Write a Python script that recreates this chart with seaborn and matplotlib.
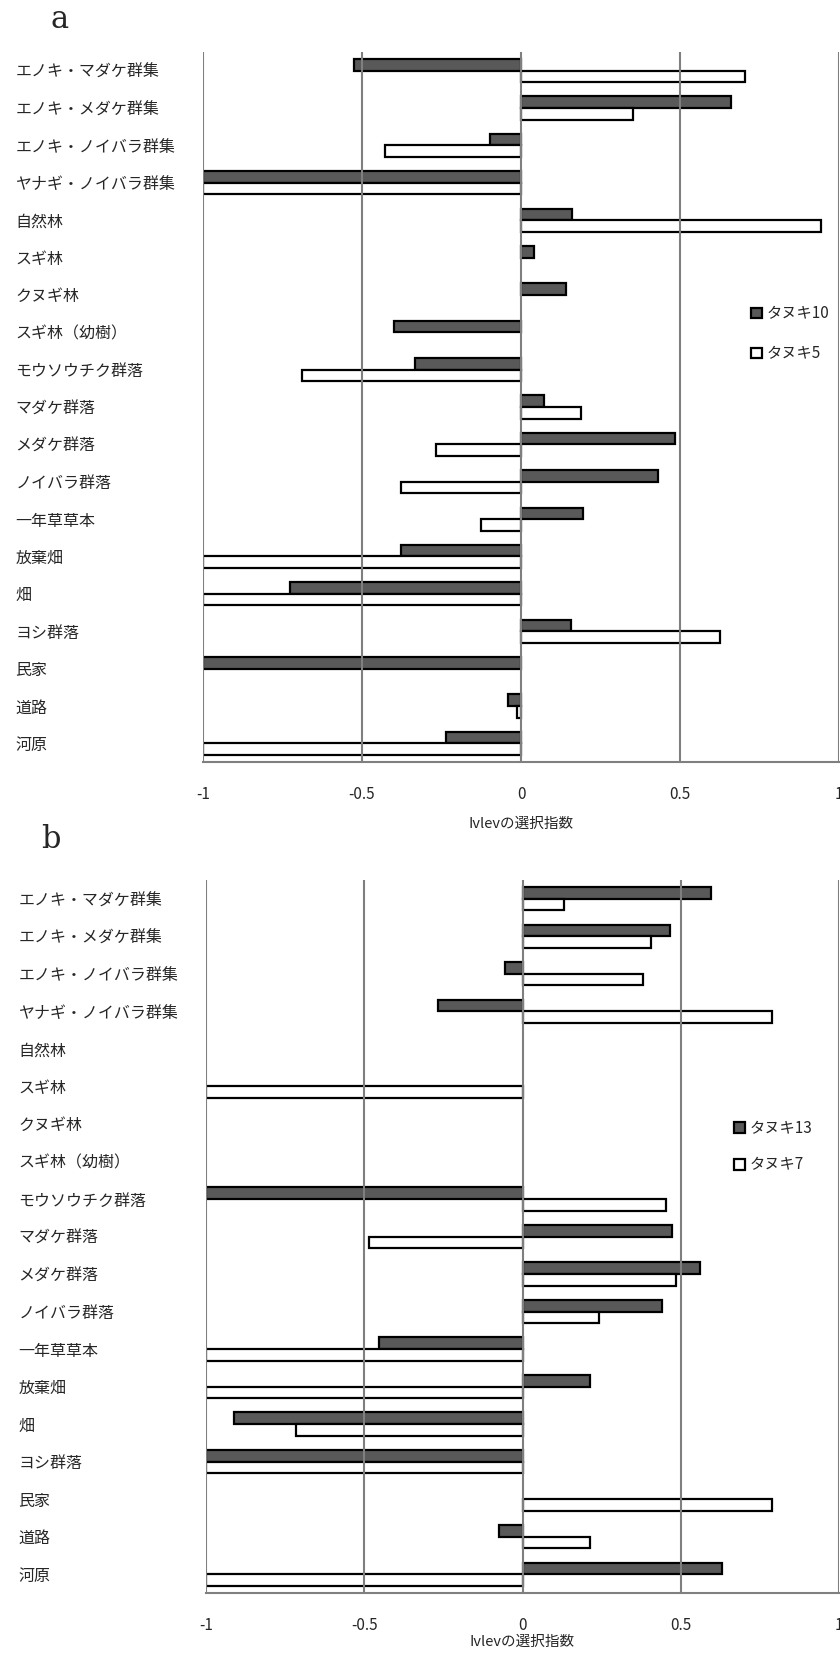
import matplotlib
matplotlib.use('Agg')
import matplotlib.pyplot as plt
import seaborn as sns
import numpy as np
import pandas as pd

# habitat types (top to bottom)
categories = ['エノキ・マダケ群集', 'エノキ・メダケ群集', 'エノキ・ノイバラ群集', 'ヤナギ・ノイバラ群集',
              '自然林', 'スギ林', 'クヌギ林', 'スギ林（幼樹）', 'モウソウチク群落', 'マダケ群落',
              'メダケ群落', 'ノイバラ群落', '一年草草本', '放棄畑', '畑', 'ヨシ群落', '民家', '道路', '河原']

# panel a  (None = no bar)
a_names = ['タヌキ10', 'タヌキ5']
a_tanuki10 = [-0.525, 0.661, -0.097, -1.0, 0.161, 0.042, 0.141, -0.398, -0.334, 0.073,
              0.483, 0.432, 0.195, -0.376, -0.725, 0.156, -1.0, -0.042, -0.237]
a_tanuki5 = [0.703, 0.353, -0.427, -1.0, 0.944, None, None, None, -0.69, 0.19,
             -0.268, -0.376, -0.127, -1.0, -1.0, 0.627, None, -0.014, -1.0]

# panel b
b_names = ['タヌキ13', 'タヌキ7']
b_tanuki13 = [0.597, 0.466, -0.056, -0.266, None, None, None, None, -1.0, 0.471,
              0.561, 0.441, -0.453, 0.214, -0.912, -1.0, None, -0.073, 0.629]
b_tanuki7 = [0.132, 0.407, 0.381, 0.788, None, -1.0, None, None, 0.453, -0.486,
             0.486, 0.241, -1.0, -1.0, -0.715, -1.0, 0.788, 0.214, -1.0]

xticks = [-1, -0.5, 0, 0.5, 1]
xtick_labels = ['-1', '-0.5', '0', '0.5', '1']

sns.set_style('white')
plt.rcParams['font.family'] = ['Noto Sans CJK JP', 'DejaVu Sans']

W, H = 840, 1654


def long_df(first, second, names):
    rows = []
    for cat, v1, v2 in zip(categories, first, second):
        if v1 is not None:
            rows.append((cat, names[0], v1))
        if v2 is not None:
            rows.append((cat, names[1], v2))
    return pd.DataFrame(rows, columns=['habitat', 'animal', 'value'])


def draw(ax, df, names, anchor, spacing, labelpad):
    sns.barplot(data=df, y='habitat', x='value', hue='animal', order=categories,
                hue_order=names, palette=['#595959', 'white'], saturation=1,
                edgecolor='black', linewidth=1.6, width=0.62, errorbar=None,
                orient='h', ax=ax)
    ax.set_xlim(-1, 1)
    ax.set_ylim(len(categories) - 0.5, -0.5)
    ax.set_xticks(xticks)
    ax.set_xticklabels(xtick_labels, fontsize=11)
    ax.set_ylabel('')
    ax.set_xlabel('Ivlevの選択指数', fontsize=10.5, labelpad=labelpad)
    # vertical gridlines drawn over the bars, like the original
    for x in xticks:
        ax.axvline(x, color='#7f7f7f', lw=1.5, zorder=5)
    for side in ['left', 'top', 'right']:
        ax.spines[side].set_visible(False)
    ax.spines['bottom'].set_color('#7f7f7f')
    ax.spines['bottom'].set_linewidth(1.5)
    ax.tick_params(axis='x', direction='out', length=5, width=1.5, color='#7f7f7f', pad=12)
    ax.tick_params(axis='y', length=0, pad=135, labelsize=11.5)
    for t in ax.get_yticklabels():
        t.set_horizontalalignment('left')
    leg = ax.legend(loc='center left', bbox_to_anchor=anchor, frameon=False,
                    handlelength=0.7, handleheight=0.7, handletextpad=0.3,
                    labelspacing=spacing, borderaxespad=0, fontsize=11)


fig = plt.figure(figsize=(W / 100, H / 100), dpi=100)

# panel a
ax_a = fig.add_axes([203 / W, 1 - 762 / H, 636 / W, 710 / H])
draw(ax_a, long_df(a_tanuki10, a_tanuki5, a_names), a_names, (0.852, 0.603), 1.5, 10)
fig.text(60 / W, 1 - 20 / H, 'a', fontsize=22, family='DejaVu Serif', ha='center', va='center')

# panel b
ax_b = fig.add_axes([206 / W, 1 - 1593 / H, 633 / W, 713 / H])
draw(ax_b, long_df(b_tanuki13, b_tanuki7, b_names), b_names, (0.825, 0.626), 1.3, 1)
fig.text(51 / W, 1 - 840 / H, 'b', fontsize=22, family='DejaVu Serif', ha='center', va='center')

fig.savefig('out.png', dpi=100)
